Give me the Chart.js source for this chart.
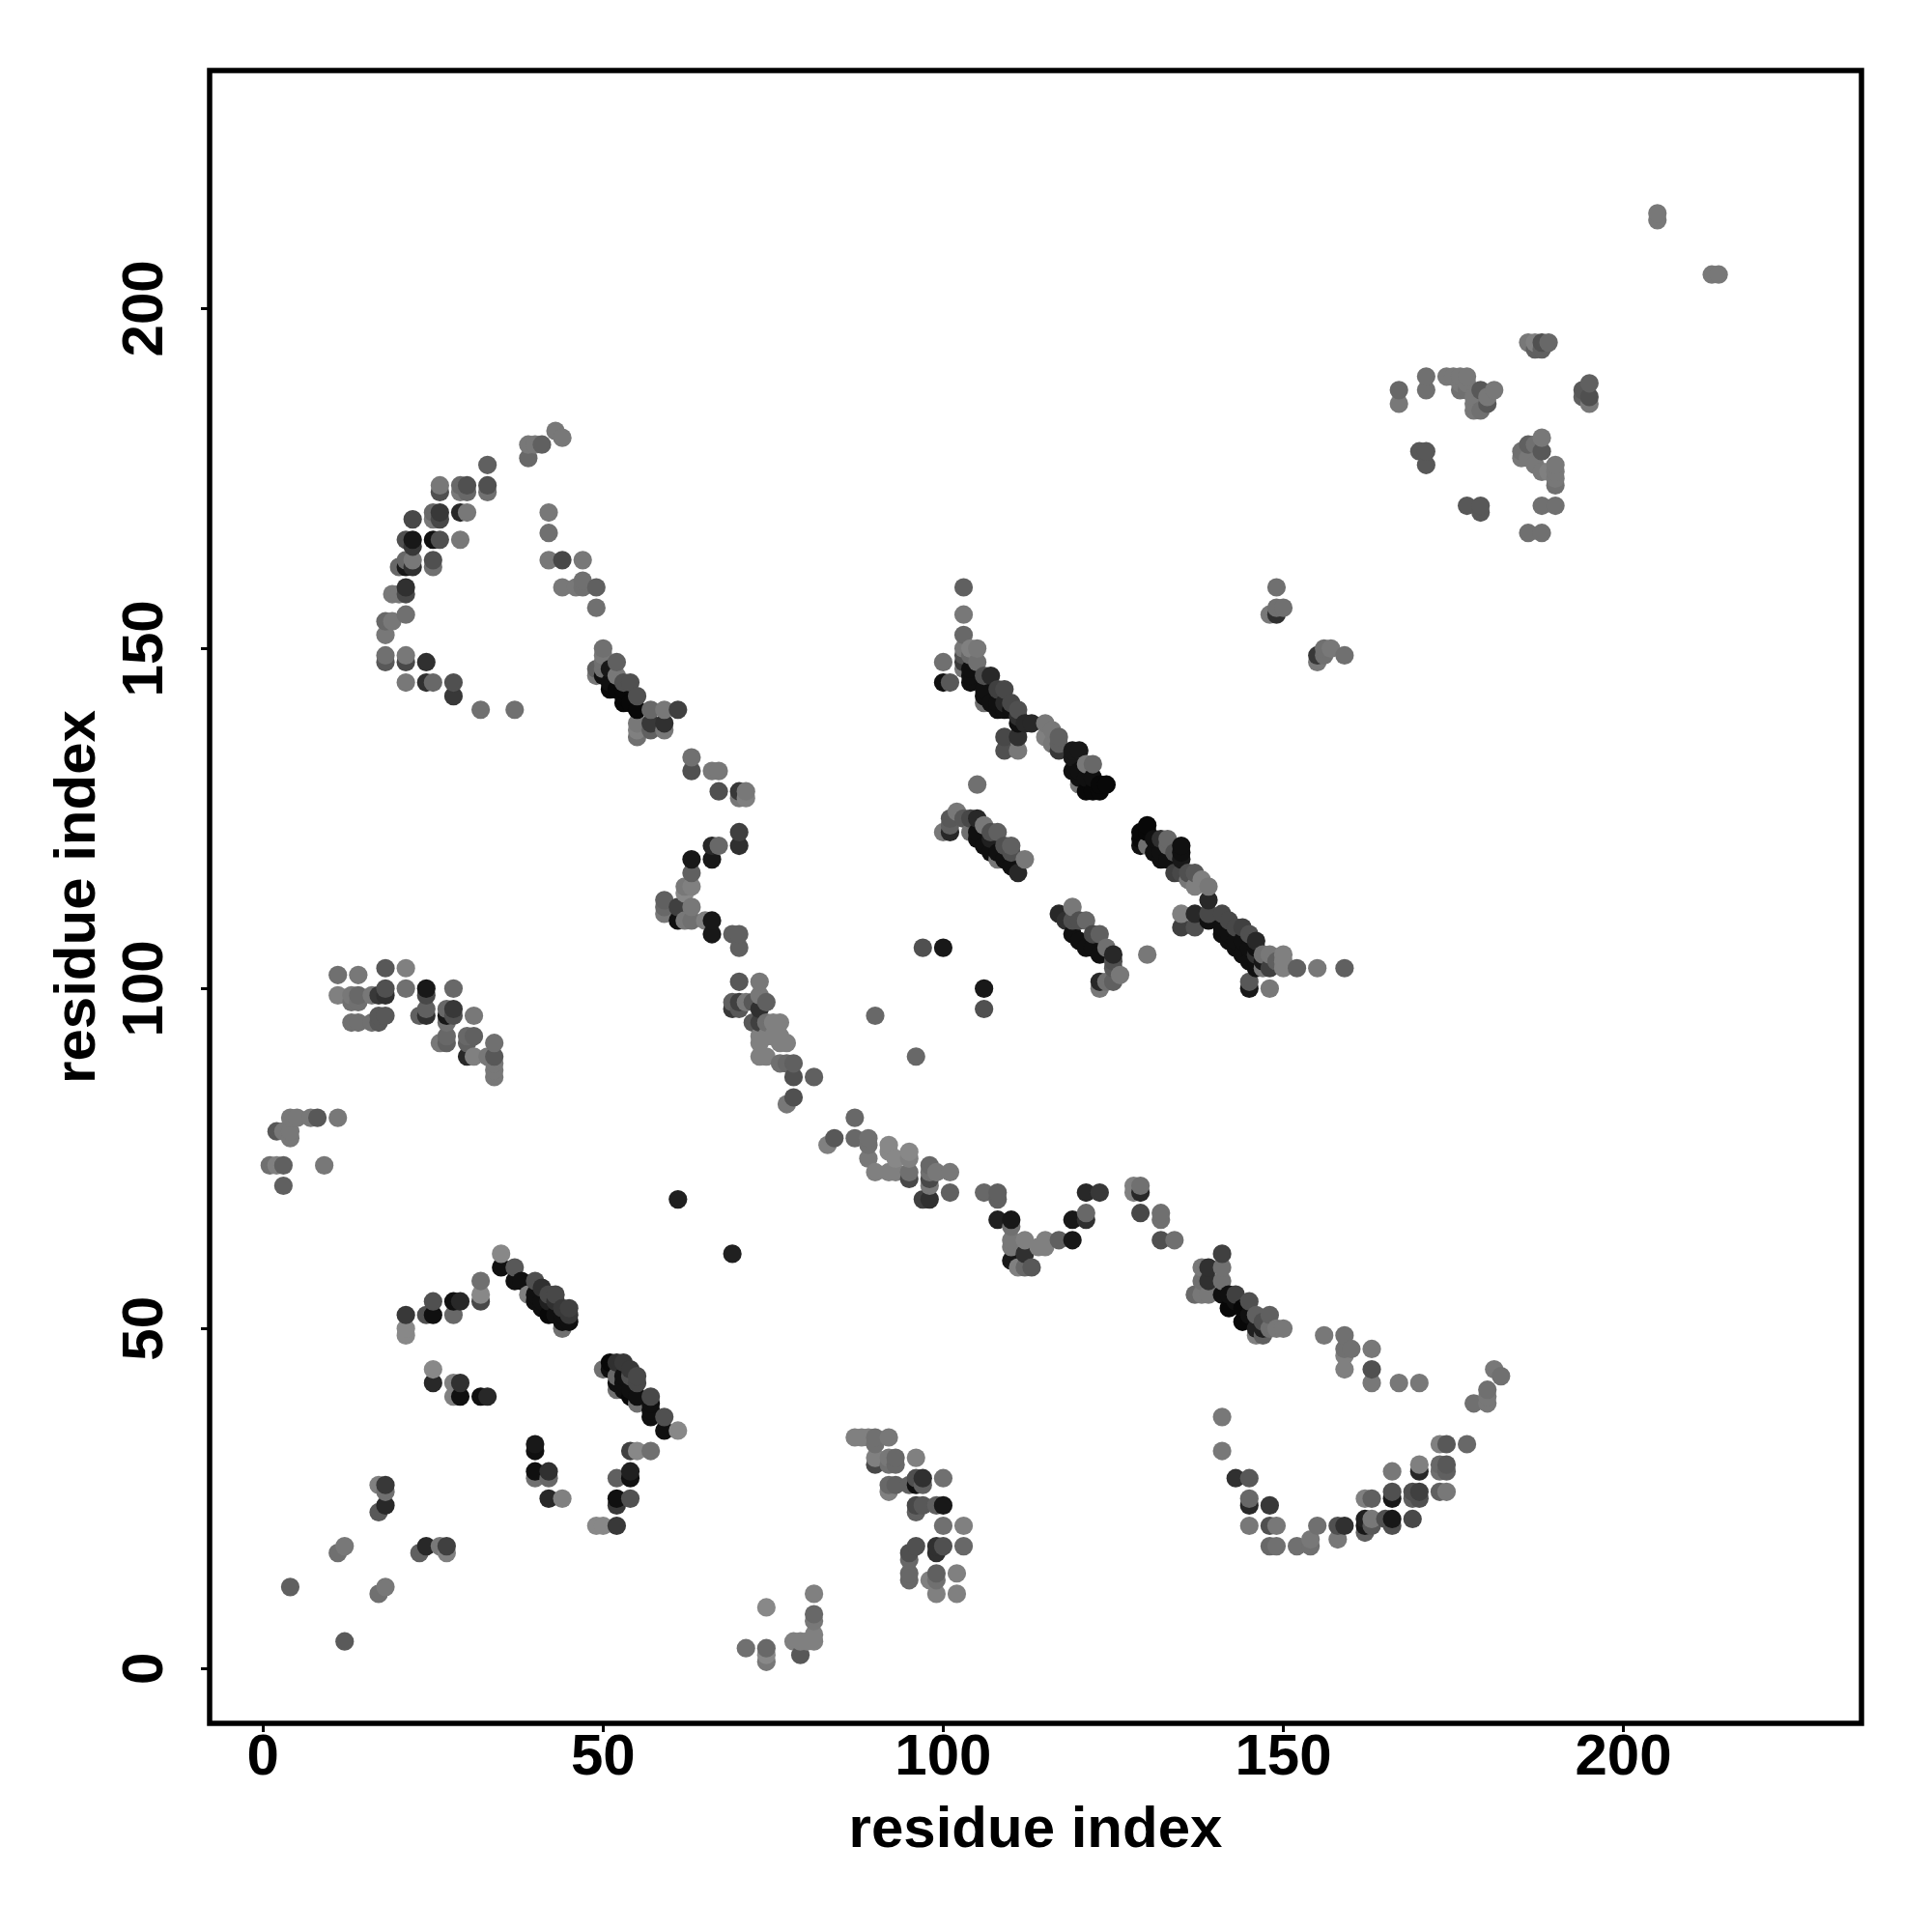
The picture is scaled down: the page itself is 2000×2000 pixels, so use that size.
<!DOCTYPE html>
<html>
<head>
<meta charset="utf-8">
<title>residue contacts</title>
<script src="https://cdn.jsdelivr.net/npm/chart.js@4"></script>
<style>
  html, body { margin: 0; padding: 0; background: #fff; }
  canvas { display: block; }
</style>
</head>
<body>
<canvas id="contact-map" width="2000" height="2000"></canvas>
<script>
// Contact map values, one line of each list per cluster
const residueI = [
  4,12,11,12,17,18,17,18,18,18,17,
  23,24,26,27,27,21,21,21,24,25,25,
  28,29,28,32,32,32,25,25,28,29,28,29,32,33,
  35,35,37,37,38,40,39,40,40,41,42,43,42,44,44,45,45,45,41,43,41,42,43,44,44,
  50,51,52,53,51,52,53,54,55,55,54,55,55,57,57,57,59,59,61,57,52,53,53,54,52,54,
  40,40,40,40,42,42,42,44,54,55,57,52,54,54,52,52,54,49,50,52,
  69,61,71,
  74,74,74,74,81,81,81,81,81,78,79,79,80,
  87,88,89,90,92,90,90,90,92,93,92,93,96,
  92,92,93,95,96,97,96,97,100,
  96,96,97,99,100,
  100,103,103,96,95,95,95,95,99,100,99,99,99,98,99,102,102,
  87,84,83,87,89,89,89,90,92,92,92,93,93,95,95,95,95,98,98,99,101,98,98,98,97,101,
  106,108,108,108,110,110,110,110,110,111,112,112,113,112,114,115,115,117,119,119,121,121,121,123,
  128,128,129,129,129,132,132,132,134,
  141,139,138,141,139,138,141,137,138,139,
  141,141,143,145,145,145,145,
  141,142,143,142,143,144,144,145,145,146,148,147,146,147,148,150,149,146,147,
  156,159,159,160,159,159,163,163,163,167,170,
  181,182,180,180,180,178,
  173,174,177,170,170,166,173,173,174,174,173,174,
  162,163,166,166,169,170,169,170,
  162,162,162,163,163,165,166,166,169,
  158,159,158,155,154,154,152,148,149,148,149,148,
  11,14,18,21,11,13,14,13,14,16,17,18,18,21,
  13,14,16,17,17,18,
  24,24,24,24,23,28,27,28,27,28,27,27,27,26,
  31,30,31,30,30,31,33,34,34,34,34,34,
  4,5,7,8,11,2,3,4,4,1,2,3,9,3,
  43,44,39,40,41,39,33,33,33,26,26,29,30,29,30,
  29,30,25,25,26,26,22,21,22,22,25,26,29,
  21,22,21,22,20,25,25,21,21,19,20,
  21,18,19,18,18,18,21,21,24,21,24,25,28,28,32,37,
  42,42,42,44,47,44,46,47,47,49,49,
  50,50,52,49,49,50,50,51,52,53,54,53,55,55,54,51,52,50,51,53,53,
  57,59,61,55,55,55,57,57,59,59,
  63,63,66,67,67,70,71,70,71,70,70,66,67,66,63,
  63,63,62,62,63,59,59,59,61,61,62,63,65,66,66,69,70,70,70,73,
  69,70,69,70,71,72,73,74,73,72,73,75,76,74,73,74,75,76,77,76,73,73,74,76,77,78,78,81,78,77,
  90,96,
  103,103,103,103,103,103,103,104,105,104,105,104,104,104,
  100,100,101,107,106,106,106,109,108,110,111,107,108,109,106,
  111,113,111,109,109,111,115,116,115,116,117,117,117,119,120,119,119,121,122,121,122,120,121,122,123,123,124,105,120,120,112,
  102,101,103,104,105,101,100,101,106,104,105,105,107,108,107,108,109,110,109,110,112,111,108,106,107,110,
  130,129,129,129,130,130,131,132,133,133,132,133,134,135,135,134,135,136,137,136,137,138,139,131,132,135,
  139,139,139,137,135,135,137,
  141,142,143,144,141,142,143,146,145,145,146,147,147,148,149,150,150,150,152,155,159,145,145,148,144,146,
  141,142,143,144,145,146,147,146,148,108,110,109,111,
  97,100,106,106,
  117,119,119,120,121,119,120,121,122,123,123,124,125,125,125,126,125,123,124,123,122,118,
  130,
  149,149,150,148,149,155,155,156,157,156,159,
  205,205,213,214,
  186,187,188,189,187,188,
  174,175,176,177,177,176,176,177,179,181,178,180,178,180,178,179,
  171,171,167,167,195,195,194,194,195,
  170,171,171,177,179,179,188,190,186,188,
  188,186,187,185,185,188,186,187,188,190,189,190,190,190
];
const residueJ = [
  12,4,17,18,11,12,27,27,26,24,23,
  17,18,18,18,17,52,50,49,52,52,54,
  54,54,52,57,55,54,44,42,42,42,40,40,40,40,
  61,59,59,57,57,57,55,55,54,54,55,55,52,51,50,51,53,52,53,52,56,54,54,53,52,
  44,45,45,45,44,42,43,43,43,42,40,40,39,40,39,37,37,35,35,38,43,41,42,44,41,41,
  33,32,29,28,29,28,25,25,32,32,32,28,29,28,25,24,25,21,21,21,
  61,69,3,
  9,3,2,1,11,8,7,5,4,4,4,2,4,
  34,34,34,34,34,33,31,30,31,31,30,30,31,
  27,26,27,27,28,28,27,27,28,
  24,23,24,24,24,
  21,21,18,18,17,16,14,13,18,18,17,14,13,13,11,14,11,
  81,78,77,78,78,77,75,73,77,76,73,75,73,76,75,73,72,74,73,73,73,72,71,69,69,70,
  70,70,69,66,66,65,63,62,60,59,63,61,59,59,62,63,62,63,63,66,67,66,70,70,
  71,70,71,70,67,67,66,63,63,
  61,59,59,59,57,57,57,55,55,55,
  37,32,28,28,25,24,21,
  55,55,55,53,54,53,51,54,52,52,52,51,49,49,50,50,50,50,50,
  49,49,47,47,46,44,47,44,42,42,42,
  44,43,41,40,39,39,
  33,33,33,30,29,29,30,29,30,29,26,26,
  25,25,26,25,26,26,25,25,
  22,21,20,22,21,22,22,21,22,
  21,21,19,21,19,18,18,18,18,21,21,24,
  102,102,103,103,99,99,99,98,98,99,99,99,100,100,
  95,95,95,95,96,96,
  100,99,97,96,96,100,97,97,96,96,95,93,92,92,
  96,93,93,92,90,90,90,92,90,89,88,87,
  81,81,81,81,81,79,79,79,78,74,74,74,74,71,
  182,181,180,180,180,178,177,174,173,174,173,174,174,173,173,
  170,170,170,169,170,169,169,166,166,165,166,166,166,
  163,163,162,162,162,163,162,159,158,158,158,
  155,154,154,152,149,148,149,148,148,145,145,145,145,143,141,141,
  170,167,163,163,163,159,159,159,160,159,156,
  150,149,148,147,146,147,146,144,146,145,145,142,143,141,142,145,144,148,147,144,143,
  141,141,141,139,138,137,139,138,139,138,
  134,132,132,132,129,129,129,128,128,123,121,121,121,119,119,
  117,115,115,114,112,113,112,111,112,110,110,110,110,110,108,108,108,106,101,101,
  98,98,97,97,98,98,99,98,97,95,95,95,95,95,93,93,93,93,92,92,92,90,90,89,89,89,87,87,84,83,
  96,90,
  159,155,152,150,149,148,147,150,150,149,148,147,146,145,
  148,145,145,146,146,144,143,144,144,142,141,142,141,141,142,
  139,139,137,137,135,135,139,138,137,136,137,136,135,135,135,134,132,133,133,131,131,130,129,129,129,130,130,130,132,131,139,
  126,125,125,125,125,124,123,123,124,123,123,122,123,123,120,120,121,121,119,120,119,117,119,121,122,118,
  124,123,122,121,123,121,122,122,122,121,119,119,120,120,119,117,117,117,117,116,115,116,115,120,120,121,
  113,111,110,111,111,109,109,
  111,110,109,109,108,107,106,107,108,104,104,105,103,105,104,105,104,103,103,103,103,101,100,100,105,105,
  109,108,107,107,106,106,104,103,103,142,141,142,140,
  106,106,100,97,
  111,112,110,110,110,108,107,106,106,108,105,106,105,104,103,102,101,101,101,100,108,110,
  105,
  159,156,156,155,155,149,148,150,150,149,149,
  214,213,205,205,
  195,195,195,195,194,194,
  190,190,190,190,189,189,188,188,188,188,187,187,186,186,185,185,
  190,188,188,186,189,187,188,187,186,
  179,179,177,171,171,170,171,171,167,167,
  181,180,180,179,178,179,178,177,176,177,176,176,175,174
];
const greyLevel = [
  96,90,112,120,112,120,128,56,112,40,88,
  96,40,120,64,128,56,136,136,80,16,80,
  16,40,104,112,136,72,136,40,128,48,128,16,16,40,
  136,16,88,16,16,80,128,16,16,16,72,72,8,16,112,16,64,56,16,16,48,32,48,56,16,
  112,8,48,56,16,16,16,80,72,72,8,16,112,72,16,16,80,16,136,16,104,16,16,56,112,16,
  24,16,16,112,48,104,40,128,64,136,112,96,32,16,16,56,80,136,136,56,
  32,32,112,
  136,104,136,120,128,104,120,128,128,128,128,88,128,
  128,128,128,112,120,112,128,72,120,104,112,104,128,
  104,128,96,96,80,48,16,96,112,
  72,96,88,96,24,
  112,128,104,80,80,104,104,104,48,80,48,96,112,128,128,128,128,
  104,88,128,104,112,112,120,128,136,136,128,136,128,136,128,112,72,104,112,120,120,72,120,48,64,96,
  104,96,96,32,24,112,120,120,24,128,128,48,88,104,128,128,128,96,24,24,104,48,40,56,
  128,128,112,40,72,112,112,80,112,
  64,48,120,112,48,112,112,104,120,120,
  120,120,48,88,104,40,120,
  16,16,64,8,16,8,8,80,16,96,96,80,128,96,112,120,120,32,32,
  120,112,112,112,128,128,120,80,120,120,120,
  120,112,112,120,120,112,
  128,88,104,128,40,120,104,112,88,96,96,120,
  128,96,80,24,80,64,96,80,
  32,24,96,120,88,80,24,80,72,
  80,48,120,112,120,112,112,104,112,80,120,56,
  112,120,88,128,128,120,104,112,112,120,56,48,80,112,
  112,112,112,88,88,88,
  24,72,96,48,96,104,104,56,24,80,112,104,96,120,
  120,104,96,96,40,128,120,112,88,120,120,120,
  120,120,120,88,120,88,120,120,120,112,128,96,120,96,
  120,120,120,120,96,104,96,80,112,120,80,104,80,120,104,
  40,120,104,120,56,72,72,80,24,56,16,80,120,
  104,120,24,48,104,80,112,48,72,120,120,
  112,104,120,120,112,88,120,72,48,120,48,104,80,56,112,112,
  120,112,120,72,120,120,120,112,112,96,112,
  112,120,96,96,120,112,16,8,120,80,80,8,80,8,8,16,8,112,24,8,8,
  104,120,64,120,128,112,56,96,48,120,
  112,80,120,120,80,56,120,120,128,64,48,40,104,24,24,
  96,128,120,136,120,96,104,120,64,16,120,112,128,24,24,96,96,96,88,120,
  96,64,56,88,120,88,120,96,48,88,64,128,128,112,128,128,128,128,128,128,128,128,128,112,104,96,80,96,80,120,
  104,104,
  96,120,104,120,80,56,120,128,120,104,112,16,16,16,
  112,16,88,40,80,16,16,72,64,72,80,16,16,16,112,
  16,40,48,72,80,120,120,120,128,120,96,96,56,24,24,24,16,120,104,16,16,120,8,8,8,8,8,112,16,16,40,
  120,88,88,72,40,96,120,40,120,112,16,16,80,96,16,16,80,96,16,80,120,40,120,16,32,16,
  8,8,8,16,8,112,16,48,104,104,16,16,80,16,24,64,72,80,88,120,128,128,120,16,16,16,
  40,72,16,40,128,64,80,
  72,72,72,64,16,16,16,40,80,16,16,112,120,120,96,128,128,128,96,120,96,88,24,120,16,48,
  16,16,16,16,16,16,24,16,64,16,16,40,48,
  80,24,24,80,
  40,120,80,80,104,16,16,16,16,96,16,112,40,80,88,120,96,40,112,120,72,48,
  120,
  112,112,112,120,48,56,120,112,120,112,112,
  120,120,120,120,
  120,128,80,104,96,96,
  120,120,120,120,120,120,112,112,88,120,120,120,120,88,120,112,
  112,112,104,120,96,80,88,96,120,
  88,88,88,88,88,88,112,112,112,112,
  120,96,112,112,120,88,120,120,120,120,128,120,120,112
];
const tickValues = [0, 50, 100, 150, 200];
const axisTitle = 'residue index';

// Drawn in residue order so later residues sit on top, like the original
const order = residueI.map((_, k) => k).sort((a, b) => residueI[a] - residueI[b] || residueJ[a] - residueJ[b]);
const points = order.map(k => ({ x: residueI[k], y: residueJ[k] }));
const colors = order.map(k => `rgb(${greyLevel[k]},${greyLevel[k]},${greyLevel[k]})`);

const font = { family: "'Liberation Sans', sans-serif", size: 60, weight: 'bold' };

const frame = {
  id: 'frame',
  afterDraw(chart) {
    const { ctx, chartArea: a } = chart;
    ctx.save();
    ctx.strokeStyle = '#000';
    ctx.lineWidth = 5.5;
    ctx.strokeRect(a.left, a.top, a.right - a.left, a.bottom - a.top);
    ctx.restore();
  }
};

const useTicks = scale => { scale.ticks = tickValues.map(v => ({ value: v })); };

new Chart(document.getElementById('contact-map'), {
  type: 'scatter',
  data: {
    datasets: [{
      data: points,
      pointBackgroundColor: colors,
      pointBorderWidth: 0,
      pointRadius: 9.6
    }]
  },
  options: {
    responsive: false,
    animation: false,
    layout: { padding: { top: 73, right: 73, left: 0, bottom: 0 } },
    plugins: { legend: { display: false }, tooltip: { enabled: false } },
    scales: {
      x: {
        min: -7.85,
        max: 235,
        afterBuildTicks: useTicks,
        afterFit: s => { s.height = 216; },
        grid: { drawOnChartArea: false, tickLength: 9, tickWidth: 3, tickColor: '#000' },
        border: { display: false },
        ticks: { color: '#000', font, padding: -9, maxRotation: 0, autoSkip: false },
        title: { display: true, text: axisTitle, color: '#000', font, padding: { top: 0, bottom: 69 } }
      },
      y: {
        min: -8.05,
        max: 235,
        afterBuildTicks: useTicks,
        afterFit: s => { s.width = 217; },
        grid: { drawOnChartArea: false, tickLength: 9, tickWidth: 3, tickColor: '#000' },
        border: { display: false },
        ticks: { color: '#000', font, padding: 6, minRotation: 90, maxRotation: 90, crossAlign: 'center', autoSkip: false },
        title: { display: true, text: axisTitle, color: '#000', font, padding: { top: 45, bottom: 0 } }
      }
    }
  },
  plugins: [frame]
});
</script>
</body>
</html>
